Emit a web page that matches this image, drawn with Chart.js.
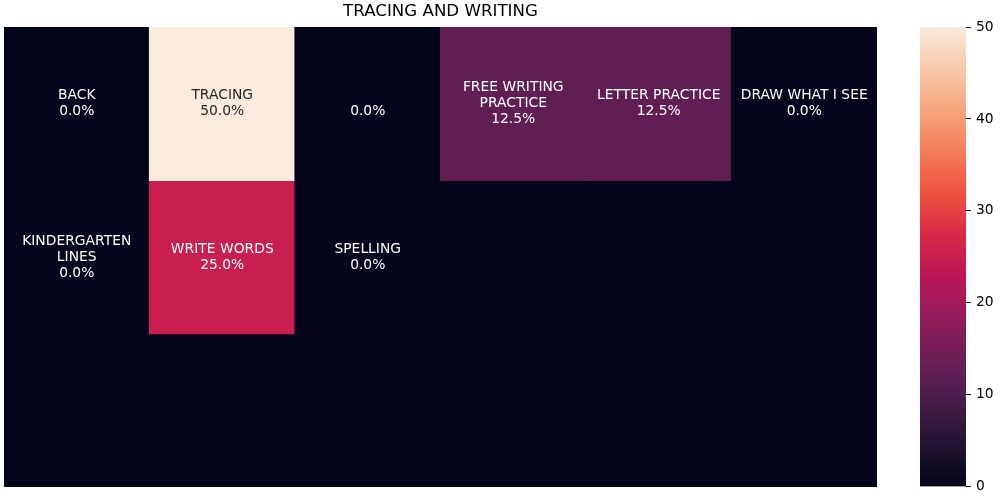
<!DOCTYPE html>
<html>
<head>
<meta charset="utf-8">
<script src="https://cdn.jsdelivr.net/npm/chart.js@4/dist/chart.umd.min.js"></script>
<style>
  html, body { margin: 0; padding: 0; background: #ffffff; }
  #wrap { position: relative; width: 1000px; height: 500px; }
  canvas { position: absolute; top: 0; }
</style>
</head>
<body>
<div id="wrap">
  <canvas id="main" width="881" height="500" style="left:0;width:881px;height:500px"></canvas>
  <canvas id="cbar" width="100" height="500" style="left:900px;width:100px;height:500px"></canvas>
</div>
<script>
// ---- data ----
const chartTitle = "TRACING AND WRITING";
const columns = ["c0", "c1", "c2", "c3", "c4", "c5"];
const rowLabels = ["r0", "r1", "r2"];
const cellNames = [
  ["BACK", "TRACING", "", "FREE WRITING\nPRACTICE", "LETTER PRACTICE", "DRAW WHAT I SEE"],
  ["KINDERGARTEN\nLINES", "WRITE WORDS", "SPELLING", null, null, null],
  [null, null, null, null, null, null]
];
const cellValues = [
  [0, 50, 0, 12.5, 12.5, 0],
  [0, 25, 0, 0, 0, 0],
  [0, 0, 0, 0, 0, 0]
];
const colorMin = 0;
const colorMax = 50;
const colorTicks = [0, 10, 20, 30, 40, 50];

// ---- rocket colormap ----
const rocketStops = [
  [0 / 11, "#03051a"], [1 / 11, "#221331"], [2 / 11, "#451c47"], [3 / 11, "#6a1f56"],
  [4 / 11, "#921c5b"], [5 / 11, "#b91657"], [6 / 11, "#d92847"], [7 / 11, "#ed513e"],
  [8 / 11, "#f47c56"], [9 / 11, "#f6a47c"], [10 / 11, "#f7c9aa"], [1, "#faebdd"]
];
function hexToRgb(h) {
  return [parseInt(h.slice(1, 3), 16), parseInt(h.slice(3, 5), 16), parseInt(h.slice(5, 7), 16)];
}
function rocket(t) {
  t = Math.max(0, Math.min(1, t));
  for (let i = 0; i < rocketStops.length - 1; i++) {
    const [p0, c0] = rocketStops[i], [p1, c1] = rocketStops[i + 1];
    if (t <= p1) {
      const f = (t - p0) / (p1 - p0);
      const a = hexToRgb(c0), b = hexToRgb(c1);
      return a.map((v, k) => Math.round(v + (b[k] - v) * f));
    }
  }
  return hexToRgb(rocketStops[rocketStops.length - 1][1]);
}
function colorFor(v) {
  const c = rocket((v - colorMin) / (colorMax - colorMin));
  return `rgb(${c[0]},${c[1]},${c[2]})`;
}
function textColorFor(v) {
  const c = rocket((v - colorMin) / (colorMax - colorMin)).map(x => {
    x = x / 255;
    return x <= 0.03928 ? x / 12.92 : Math.pow((x + 0.055) / 1.055, 2.4);
  });
  const lum = 0.2126 * c[0] + 0.7152 * c[1] + 0.0722 * c[2];
  return lum > 0.408 ? "#262626" : "#ffffff";
}

const FONT = "'DejaVu Sans', sans-serif";

const annotPlugin = {
  id: "annot",
  afterDatasetsDraw(chart) {
    const ctx = chart.ctx;
    ctx.save();
    ctx.font = "13.89px " + FONT;
    ctx.textAlign = "center";
    ctx.textBaseline = "middle";
    chart.data.datasets.forEach((ds, i) => {
      const meta = chart.getDatasetMeta(i);
      meta.data.forEach((el, j) => {
        const name = cellNames[i][j];
        if (name === null) return;
        const v = cellValues[i][j];
        const lines = name.split("\n").concat([v.toFixed(1) + "%"]);
        const p = el.getCenterPoint();
        const lh = 16;
        const y0 = p.y - (lines.length - 1) * lh / 2;
        ctx.fillStyle = textColorFor(v);
        lines.forEach((ln, k) => ctx.fillText(ln, p.x, y0 + k * lh));
      });
    });
    ctx.restore();
  }
};

new Chart(document.getElementById("main"), {
  type: "bar",
  data: {
    labels: columns,
    datasets: rowLabels.map((r, i) => ({
      label: r,
      data: columns.map(() => 1),
      backgroundColor: cellValues[i].map(colorFor),
      borderWidth: 0,
      inflateAmount: 0.6,
      barPercentage: 1,
      categoryPercentage: 1
    }))
  },
  options: {
    responsive: false,
    animation: false,
    devicePixelRatio: 1,
    layout: { padding: { left: 4, right: 4, top: 0, bottom: 13 } },
    plugins: {
      legend: { display: false },
      tooltip: { enabled: false },
      title: {
        display: true,
        text: chartTitle,
        color: "#000000",
        font: { family: FONT, size: 16.67, weight: "normal" },
        padding: { top: 2, bottom: 5 }
      }
    },
    scales: {
      x: { display: false, stacked: true },
      y: { display: false, stacked: true, min: 0, max: rowLabels.length, reverse: true }
    }
  },
  plugins: [annotPlugin]
});

new Chart(document.getElementById("cbar"), {
  type: "bar",
  data: {
    labels: [""],
    datasets: [{
      data: [[colorMin, colorMax]],
      backgroundColor(context) {
        const area = context.chart.chartArea;
        if (!area) return "#000";
        const g = context.chart.ctx.createLinearGradient(0, area.bottom, 0, area.top);
        rocketStops.forEach(([p, c]) => g.addColorStop(p, c));
        return g;
      },
      borderWidth: 0,
      barPercentage: 1,
      categoryPercentage: 1
    }]
  },
  options: {
    responsive: false,
    animation: false,
    devicePixelRatio: 1,
    layout: { padding: { left: 20, right: 0, top: 27, bottom: 13 } },
    plugins: { legend: { display: false }, tooltip: { enabled: false } },
    scales: {
      x: { display: false },
      y: {
        position: "right",
        min: colorMin,
        max: colorMax,
        afterBuildTicks(scale) { scale.ticks = colorTicks.map(v => ({ value: v })); },
        afterFit(scale) { scale.width = 34; },
        ticks: { color: "#000000", font: { family: FONT, size: 13.89 }, padding: 5 },
        grid: { drawOnChartArea: false, drawTicks: true, tickLength: 5, color: "#000000", lineWidth: 1 },
        border: { display: false }
      }
    }
  }
});
</script>
</body>
</html>
